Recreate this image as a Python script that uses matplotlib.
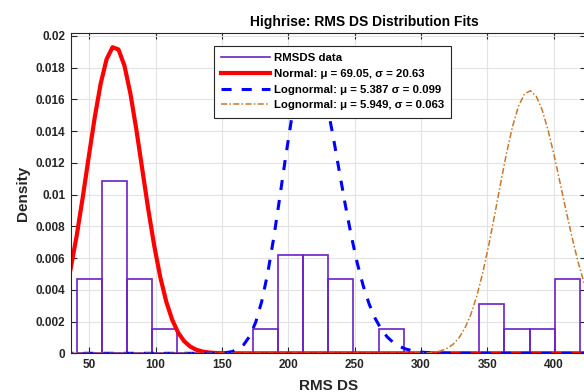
import numpy as np
import matplotlib
matplotlib.use('Agg')
import matplotlib.pyplot as plt
from matplotlib.lines import Line2D

# histogram of RMS DS values (counts per bin)
counts = [3, 7, 3, 1, 0, 0, 0, 1, 4, 4, 3, 0, 1, 0, 0, 0, 2, 1, 1, 3]
bin_lo, bin_hi = 40.4, 419.8

# fitted parameters
norm_mu, norm_sigma = 69.05, 20.63
logn1_mu, logn1_sigma = 5.387, 0.099
logn2_mu, logn2_sigma = 5.949, 0.063

labels = ['RMSDS data',
          'Normal: \u03bc = 69.05, \u03c3 = 20.63',
          'Lognormal: \u03bc = 5.387 \u03c3 = 0.099',
          'Lognormal: \u03bc = 5.949, \u03c3 = 0.063']

plt.rcParams['font.family'] = ['Liberation Sans', 'DejaVu Sans']
plt.rcParams['font.weight'] = 'bold'

edges = np.linspace(bin_lo, bin_hi, len(counts) + 1)
width = edges[1] - edges[0]
counts = np.array(counts)
density = counts / (counts.sum() * width)

x = np.linspace(0, 450, 101)
pdf_norm = np.exp(-0.5 * ((x - norm_mu) / norm_sigma) ** 2) / (norm_sigma * np.sqrt(2 * np.pi))


def lognpdf(v, mu, s):
    out = np.zeros_like(v)
    m = v > 0
    out[m] = np.exp(-0.5 * ((np.log(v[m]) - mu) / s) ** 2) / (v[m] * s * np.sqrt(2 * np.pi))
    return out


pdf_l1 = lognpdf(x, logn1_mu, logn1_sigma)
pdf_l2 = lognpdf(x, logn2_mu, logn2_sigma)

purple = '#6A22C8'
fig = plt.figure(figsize=(5.84, 3.92), dpi=100)
ax = fig.add_axes([0.1216, 0.0987, 0.882, 0.8179])

ax.bar(edges[:-1], density, width=width, align='edge', fill=False,
       edgecolor=purple, linewidth=1.2)
l1, = ax.plot(x, pdf_norm, color='red', lw=3.0, label=labels[1])
l2, = ax.plot(x, pdf_l1, color='blue', lw=2.2, dashes=(3.3, 3.3), label=labels[2])
l3, = ax.plot(x, pdf_l2, color='#C8782A', lw=1.1, dashes=(4, 1.5, 1, 1.5), label=labels[3])
h0 = Line2D([], [], color=purple, lw=1.2, label=labels[0])

ax.set_xlim(36.2, 424.5)
ax.set_ylim(0, 0.0202)
ax.set_xticks([50, 100, 150, 200, 250, 300, 350, 400])
ax.set_yticks(np.arange(0, 0.0201, 0.002))
ax.set_yticklabels(['0'] + ['%g' % v for v in np.arange(0.002, 0.0201, 0.002)])
ax.tick_params(direction='in', top=True, right=True, labelsize=8.5, length=4,
               width=0.8, colors='#262626', pad=4)
for s in ax.spines.values():
    s.set_color('#262626')
    s.set_linewidth(0.8)
ax.grid(True, color='#E3E3E3', linewidth=0.8)
ax.set_axisbelow(True)

ax.set_xlabel('RMS DS', fontsize=11, fontweight='bold', color='#262626', labelpad=6)
ax.set_ylabel('Density', fontsize=11, fontweight='bold', color='#262626', labelpad=4)
ax.set_title('Highrise: RMS DS Distribution Fits', fontsize=10, fontweight='bold',
             x=0.57, pad=5)

leg = ax.legend(handles=[h0, l1, l2, l3], loc='upper left', bbox_to_anchor=(0.366, 0.883),
                bbox_transform=fig.transFigure, fontsize=8.2, frameon=True,
                fancybox=False, edgecolor='#262626', framealpha=1,
                handlelength=4.3, handletextpad=0.3, labelspacing=0.5,
                borderpad=0.65, borderaxespad=0)
leg.get_frame().set_linewidth(0.8)

fig.savefig('out.png', dpi=100)
